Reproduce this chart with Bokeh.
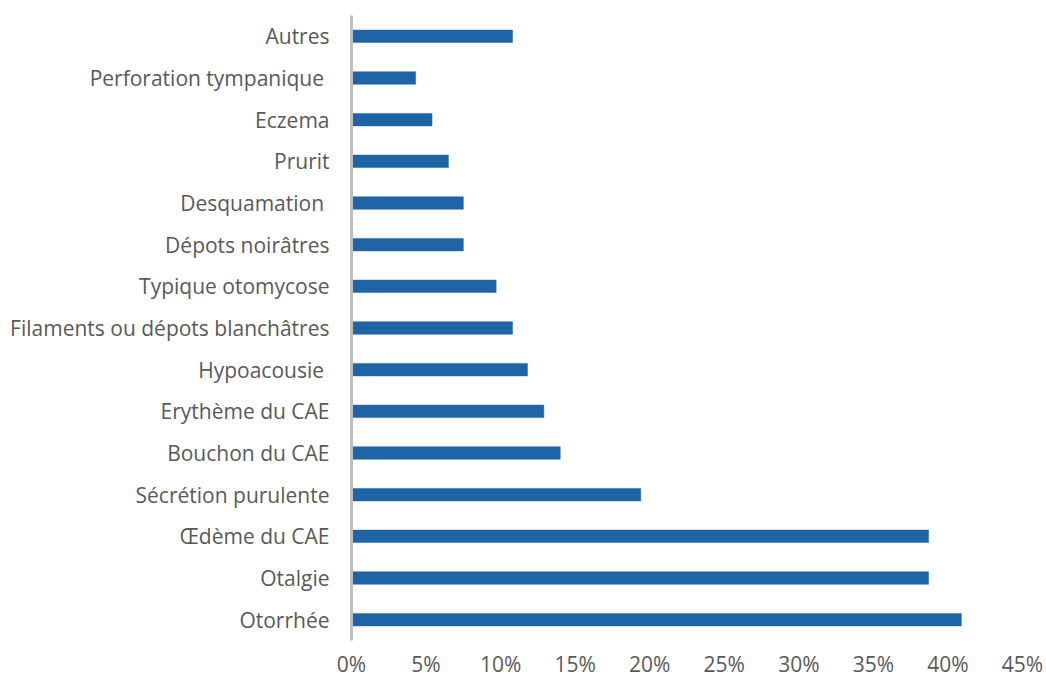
from bokeh.plotting import figure
from bokeh.models import Range1d, FactorRange, FixedTicker, PrintfTickFormatter
from bokeh.embed import file_html
from bokeh.resources import INLINE

# Symptoms (top to bottom) and share of patients in percent
symptoms = [
    "Autres",
    "Perforation tympanique ",
    "Eczema",
    "Prurit",
    "Desquamation ",
    "Dépots noirâtres",
    "Typique otomycose",
    "Filaments ou dépots blanchâtres",
    "Hypoacousie ",
    "Erythème du CAE",
    "Bouchon du CAE",
    "Sécrétion purulente",
    "Œdème du CAE",
    "Otalgie",
    "Otorrhée",
]
percent = [10.8, 4.3, 5.4, 6.5, 7.5, 7.5, 9.7, 10.8, 11.8, 12.9, 14.0, 19.4, 38.7, 38.7, 40.9]
x_ticks = [0, 5, 10, 15, 20, 25, 30, 35, 40, 45]

FONT = "Open Sans"
TEXT_COLOR = "#595959"
BAR_COLOR = "#1F64A4"

# categorical axis lists factors bottom-up, so reverse to keep "Autres" on top
p = figure(
    width=1046, height=680,
    y_range=FactorRange(*symptoms[::-1], range_padding=0),
    x_range=Range1d(0, 45),
    output_backend="svg", toolbar_location=None,
    min_border_left=351, min_border_right=24,
    min_border_top=15, min_border_bottom=40,
)

p.hbar(y=symptoms, right=percent, left=0, height=0.3,
       fill_color=BAR_COLOR, line_color=BAR_COLOR, line_width=0.5)

p.outline_line_color = None
p.xgrid.grid_line_color = None
p.ygrid.grid_line_color = None
p.background_fill_color = "white"
p.border_fill_color = "white"

xa = p.xaxis[0]
xa.ticker = FixedTicker(ticks=x_ticks)
xa.formatter = PrintfTickFormatter(format="%d%%")
xa.axis_line_color = None
xa.major_tick_line_color = None
xa.minor_tick_line_color = None
xa.major_tick_out = 0
xa.major_tick_in = 0
xa.major_label_standoff = 9
xa.major_label_text_font = FONT
xa.major_label_text_font_size = "21px"
xa.major_label_text_color = TEXT_COLOR

ya = p.yaxis[0]
ya.axis_line_color = "#BFBFBF"
ya.axis_line_width = 3
ya.major_tick_line_color = None
ya.minor_tick_line_color = None
ya.major_tick_out = 0
ya.major_tick_in = 0
ya.major_label_standoff = 22
ya.major_label_text_font = FONT
ya.major_label_text_font_size = "21px"
ya.major_label_text_color = TEXT_COLOR

open("out.html", "w").write(file_html(p, INLINE))
